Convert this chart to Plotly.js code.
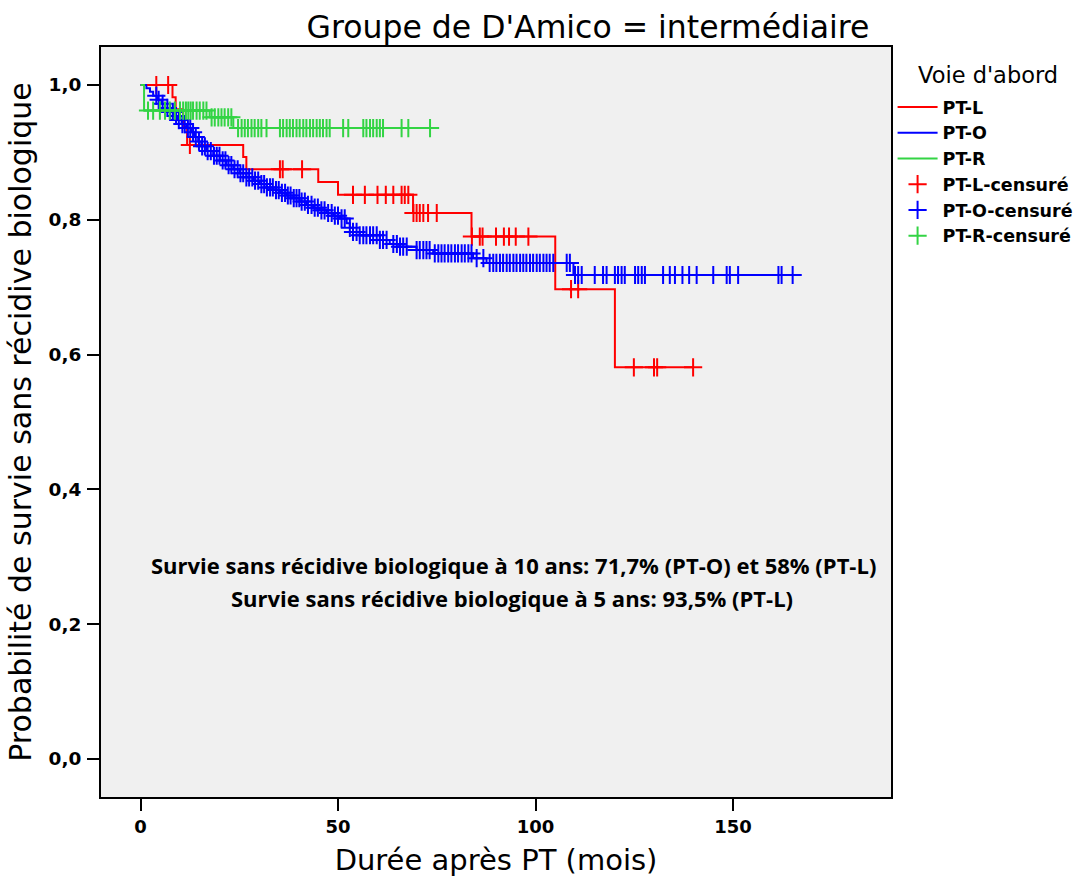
<!DOCTYPE html>
<html>
<head>
<meta charset="utf-8">
<script src="https://cdn.plot.ly/plotly-3.0.1.min.js"></script>
<style>html,body{margin:0;padding:0;background:#fff;}#chart{width:1088px;height:886px;}</style>
</head>
<body>
<div id="chart"></div>
<script>
// ---- Data ----
const groupNames = ["PT-L", "PT-O", "PT-R"];
const censorNames = ["PT-L-censuré", "PT-O-censuré", "PT-R-censuré"];

// PT-L step function (event times, survival after each event)
const redTimes = [0, 8.1, 8.9, 10.8, 11.8, 26.0, 26.8, 45.0, 50.0, 69.0, 83.8, 105.0, 120.1];
const redSurv  = [1.0, 0.982, 0.964, 0.938, 0.911, 0.893, 0.875, 0.856, 0.837, 0.810, 0.775, 0.697, 0.581];
const redEnd = 140.0;
const redCensor = [4.0, 7.0, 12.5, 35.3, 36.0, 40.9, 53.8, 56.8, 60.0, 62.1, 64.0, 66.1, 66.9, 67.8,
  69.1, 69.9, 70.7, 71.6, 72.8, 75.0, 83.9, 85.9, 86.6, 90.0, 92.0, 93.3, 95.0, 98.2,
  109.0, 110.8, 124.9, 130.0, 130.8, 139.9];

// PT-O step function
const blueTimes = [0, 1.5, 2.4, 3.2, 4.2, 5.3, 6.2, 7.2, 8.4, 9.4, 10.4, 11.6, 12.9, 13.8, 14.6, 15.4,
  16.7, 18.4, 20.1, 21.8, 23.5, 25.1, 26.8, 28.5, 30.2, 31.9, 33.6, 35.3, 37.0, 38.7, 40.3, 42.0,
  43.7, 45.4, 47.1, 48.8, 50.5, 52.2, 53.0, 53.8, 55.5, 60.6, 63.1, 65.5, 69.9, 74.1, 84.2, 87.6, 109.6];
const blueSurv = [1.0, 0.995, 0.990, 0.984, 0.978, 0.972, 0.966, 0.960, 0.954, 0.948, 0.942, 0.936, 0.930,
  0.923, 0.916, 0.909, 0.902, 0.895, 0.888, 0.881, 0.875, 0.869, 0.863, 0.858, 0.853, 0.848, 0.844,
  0.840, 0.836, 0.832, 0.827, 0.822, 0.818, 0.814, 0.810, 0.806, 0.802, 0.795, 0.788, 0.782, 0.777,
  0.770, 0.764, 0.760, 0.755, 0.750, 0.743, 0.736, 0.718];
const blueEnd = 165.1;
const blueCensor = [4.0, 4.6, 5.6, 6.8, 7.5, 8.2, 9.0, 9.7, 10.6, 11.2, 12.0, 12.6, 13.3, 14.0, 14.8, 15.6,
  16.3, 17.0, 17.8, 18.6, 19.3, 20.0, 20.8, 21.5, 22.3, 23.0, 23.8, 24.6, 25.3, 26.0, 26.8, 27.5, 28.3,
  29.0, 29.8, 30.6, 31.3, 32.0, 32.8, 33.5, 34.3, 35.0, 35.8, 36.6, 37.3, 38.0, 38.8, 39.5, 40.2,
  40.8, 41.6, 42.4, 43.3, 44.1, 44.9, 45.8, 46.6, 47.5, 48.4, 49.2, 50.0, 50.9, 51.7, 53.0, 53.8,
  54.7, 55.5, 56.4, 57.2, 58.1, 58.9, 59.8, 60.6, 61.4, 62.3, 64.0, 64.9, 65.7, 66.5, 67.4, 69.9,
  70.7, 71.6, 72.4, 73.2, 74.5, 75.4, 76.2, 77.0, 77.9, 78.7, 79.6, 80.4, 81.3, 82.1, 83.0, 83.8,
  85.1, 86.8, 88.4, 89.3, 90.1, 91.0, 91.8, 92.7, 93.5, 94.4, 95.2, 96.1, 96.9, 97.7, 98.6, 99.4,
  100.3, 101.1, 102.0, 102.8, 103.6, 104.5, 107.9, 108.7, 110.0, 110.8, 111.7, 115.0, 117.1, 118.0,
  120.1, 120.9, 121.8, 122.6, 125.2, 126.0, 126.9, 127.7, 132.3, 134.0, 135.3, 137.2, 138.9, 140.8,
  145.0, 148.4, 149.2, 151.3, 161.5, 162.3, 165.1];

// PT-R step function
const greenTimes = [0, 0.9, 17.5, 23.5];
const greenSurv  = [1.0, 0.962, 0.952, 0.936];
const greenEnd = 73.3;
const greenCensor = [1.9, 3.2, 4.9, 6.2, 7.4, 8.7, 10.0, 10.8, 11.5, 12.1, 12.7, 13.3, 14.2, 15.0, 15.9,
  16.7, 18.0, 18.8, 19.7, 20.5, 21.3, 22.2, 23.0, 24.7, 25.6, 26.4, 27.2, 28.1, 28.9, 29.8, 30.6,
  31.9, 35.3, 36.1, 37.0, 37.8, 38.6, 39.5, 40.3, 41.2, 42.0, 42.9, 43.7, 44.6, 45.4, 46.2, 47.1,
  47.9, 51.3, 52.6, 56.4, 57.2, 58.1, 58.9, 59.8, 60.6, 61.4, 66.1, 67.8, 73.3];

const yTicks = [0, 0.2, 0.4, 0.6, 0.8, 1.0];
const xTicks = [0, 50, 100, 150];

const titleText = "Groupe de D'Amico = intermédiaire";
const xTitle = "Durée après PT (mois)";
const yTitle = "Probabilité de survie sans récidive biologique";
const legendTitle = "Voie d'abord";
const note1 = "Survie sans récidive biologique à 10 ans: 71,7% (PT-O) et 58% (PT-L)";
const note2 = "Survie sans récidive biologique à 5 ans: 93,5% (PT-L)";

// ---- Build traces ----
const colors = ["#ff0000", "#0000ff", "#33d444"];
const groups = [
  {t: redTimes, s: redSurv, end: redEnd, c: redCensor},
  {t: blueTimes, s: blueSurv, end: blueEnd, c: blueCensor},
  {t: greenTimes, s: greenSurv, end: greenEnd, c: greenCensor}
];
function stepAt(times, surv, x) {
  let v = surv[0];
  for (let i = 0; i < times.length; i++) { if (times[i] <= x) v = surv[i]; }
  return v;
}
const traces = [];
groups.forEach((g, i) => {
  traces.push({
    type: "scatter", mode: "lines", name: groupNames[i],
    x: g.t.concat([g.end]), y: g.s.concat([g.s[g.s.length - 1]]),
    line: {shape: "hv", color: colors[i], width: 2},
    hoverinfo: "skip"
  });
});
groups.forEach((g, i) => {
  traces.push({
    type: "scatter", mode: "markers", name: censorNames[i],
    x: g.c, y: g.c.map(x => stepAt(g.t, g.s, x)),
    marker: {symbol: "cross-thin-open", size: 13, color: colors[i], line: {color: colors[i], width: 2}},
    hoverinfo: "skip"
  });
});

const layout = {
  width: 1088, height: 886,
  paper_bgcolor: "#ffffff", plot_bgcolor: "#f0f0f0",
  separators: ", ",
  margin: {l: 101, r: 197, t: 47, b: 89, pad: 0, autoexpand: false},
  showlegend: true,
  font: {family: "DejaVu Sans", color: "#000"},
  title: {text: titleText, font: {family: "DejaVu Sans", size: 31.5, color: "#000"},
          x: 588 / 1088, xanchor: "center", xref: "container", y: 1 - 27 / 886, yanchor: "middle", yref: "container"},
  xaxis: {
    range: [-10, 190], tickvals: xTicks, ticktext: xTicks.map(String),
    ticks: "outside", ticklen: 12, tickwidth: 2, tickcolor: "#000",
    showline: true, linecolor: "#000", linewidth: 2, mirror: true,
    showgrid: false, zeroline: false, automargin: false,
    tickfont: {family: "DejaVu Sans", size: 18, weight: "bold", color: "#000"},
    title: {text: xTitle, font: {family: "DejaVu Sans", size: 29, color: "#000"}, standoff: 14}
  },
  yaxis: {
    range: [-0.0567, 1.0564], tickvals: yTicks, tickformat: ".1f",
    ticks: "outside", ticklen: 12, tickwidth: 2, tickcolor: "#000",
    showline: true, linecolor: "#000", linewidth: 2, mirror: true,
    showgrid: false, zeroline: false, automargin: false,
    ticklabelstandoff: 2,
    tickfont: {family: "DejaVu Sans", size: 18.5, weight: "bold", color: "#000"},
    title: {text: yTitle, font: {family: "DejaVu Sans", size: 30, color: "#000"}, standoff: 8}
  },
  legend: {
    x: 1.002, xanchor: "left", y: (797 - 89) / 750, yanchor: "top",
    bgcolor: "rgba(0,0,0,0)", borderwidth: 0,
    font: {family: "DejaVu Sans", size: 17.5, weight: "bold", color: "#000"},
    traceorder: "normal", itemwidth: 40
  },
  annotations: [
    {text: legendTitle, xref: "paper", yref: "paper", x: (988 - 101) / 790, y: (797 - 75) / 750,
     showarrow: false, xanchor: "center", yanchor: "middle",
     font: {family: "DejaVu Sans", size: 22.5, weight: "normal", color: "#000"}},
    {text: note1, xref: "paper", yref: "y", x: (513 - 101) / 790, y: (759.3 - 565) / 674.3,
     showarrow: false, xanchor: "center", yanchor: "middle",
     font: {family: "Open Sans", size: 22, weight: "bold", color: "#000"}},
    {text: note2, xref: "paper", yref: "y", x: (512 - 101) / 790, y: (759.3 - 598) / 674.3,
     showarrow: false, xanchor: "center", yanchor: "middle",
     font: {family: "Open Sans", size: 22, weight: "bold", color: "#000"}}
  ]
};

Plotly.newPlot("chart", traces, layout, {displayModeBar: false, staticPlot: true});
</script>
</body>
</html>
